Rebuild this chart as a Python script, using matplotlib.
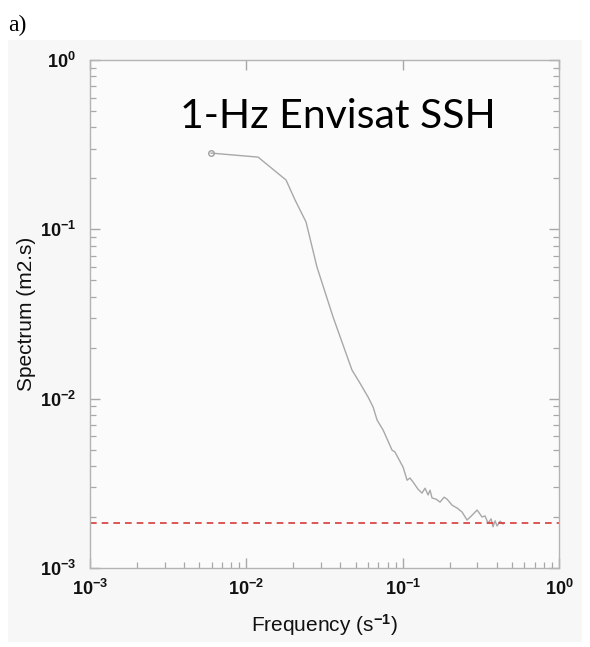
import math
import matplotlib
matplotlib.use('Agg')
import matplotlib.pyplot as plt
from matplotlib.patches import Rectangle
from matplotlib.ticker import LogLocator, NullFormatter, FuncFormatter

# spectrum (frequency in s^-1, spectrum in m2.s)
freq = [0.00594, 0.01189, 0.01795, 0.0205, 0.0241, 0.0283, 0.0359, 0.0474,
        0.0533, 0.0601, 0.0647, 0.0686, 0.0750, 0.0855, 0.0893, 0.1006,
        0.1067, 0.1114, 0.1165, 0.1254, 0.1330, 0.1390, 0.1454, 0.1496,
        0.1542, 0.1636, 0.1734, 0.1841, 0.1923, 0.2070, 0.2229, 0.2399,
        0.2582, 0.2780, 0.2992, 0.3221, 0.3365, 0.3515, 0.3678, 0.3784,
        0.3900, 0.4018, 0.4198, 0.4385]
spec = [0.282, 0.267, 0.1955, 0.149, 0.1104, 0.0599, 0.0303, 0.01476,
        0.01236, 0.01022, 0.00892, 0.00748, 0.00652, 0.00497, 0.00484, 0.00394,
        0.00330, 0.00340, 0.00322, 0.00292, 0.00277, 0.00296, 0.00270, 0.00288,
        0.00259, 0.00255, 0.00245, 0.00262, 0.00255, 0.00235, 0.00226, 0.00214,
        0.00192, 0.00205, 0.00220, 0.00200, 0.00203, 0.00184, 0.00195, 0.00175,
        0.00190, 0.00177, 0.00189, 0.00182]
noise_level = 1.85e-3

plt.rcParams['mathtext.fontset'] = 'custom'
plt.rcParams['mathtext.rm'] = 'Liberation Sans:bold'
plt.rcParams['mathtext.it'] = 'Liberation Sans:bold'
plt.rcParams['mathtext.bf'] = 'Liberation Sans:bold'

fig = plt.figure(figsize=(5.9, 6.47), dpi=100)
fig.patch.set_facecolor('white')
fig.patches.append(Rectangle((8 / 590, 1 - 642 / 647), 574 / 590, 602 / 647,
                             transform=fig.transFigure, facecolor='#f7f7f7',
                             edgecolor='none', zorder=-10))

ax = fig.add_axes([90 / 590, 1 - 568 / 647, 469 / 590, 508 / 647])
ax.set_facecolor('#fbfbfb')
ax.set_xscale('log')
ax.set_yscale('log')
ax.set_xlim(1e-3, 1)
ax.set_ylim(1e-3, 1)

ax.plot(freq, spec, color='#a8a8a8', lw=1.0)
ax.plot(freq[0], spec[0], 'o', mfc='none', mec='#a0a0a0', ms=4, mew=1.0)
ax.axhline(noise_level, color='#d83a3a', lw=1.2, ls=(0, (4, 3)))

for s in ax.spines.values():
    s.set_color('#b4b4b4')
    s.set_linewidth(1.0)

ax.xaxis.set_major_locator(LogLocator(base=10, numticks=10))
ax.yaxis.set_major_locator(LogLocator(base=10, numticks=10))
ax.xaxis.set_minor_locator(LogLocator(base=10, subs=range(2, 10), numticks=10))
ax.yaxis.set_minor_locator(LogLocator(base=10, subs=range(2, 10), numticks=10))
ax.xaxis.set_minor_formatter(NullFormatter())
ax.yaxis.set_minor_formatter(NullFormatter())
fmt = FuncFormatter(lambda v, p: r'$10^{%d}$' % round(math.log10(v)))
ax.xaxis.set_major_formatter(fmt)
ax.yaxis.set_major_formatter(fmt)

ax.tick_params(which='both', direction='in', color='#a8a8a8', top=True, right=True,
               labelsize=13, labelcolor='#111111')
ax.tick_params(which='major', length=7, width=1.0)
ax.tick_params(which='minor', length=4, width=0.9)
ax.tick_params(axis='x', which='minor', top=False)
ax.tick_params(axis='x', which='major', pad=8)
ax.tick_params(axis='y', which='major', pad=10)

ax.set_xlabel('Frequency (s$^{-1}$)', fontsize=15, family='Liberation Sans',
              color='#111111', labelpad=9)
ax.set_ylabel('Spectrum (m2.s)', fontsize=15, family='Liberation Sans',
              color='#111111', labelpad=3)

ax.text(0.192, 0.866, '1-Hz Envisat SSH', transform=ax.transAxes, fontsize=29.5,
        family='Lato', color='black', va='baseline', ha='left')
fig.text(8 / 590, 1 - 25 / 647, 'a)', fontsize=17, family='Liberation Serif',
         va='center', ha='left')

plt.savefig('out.png', dpi=100)
